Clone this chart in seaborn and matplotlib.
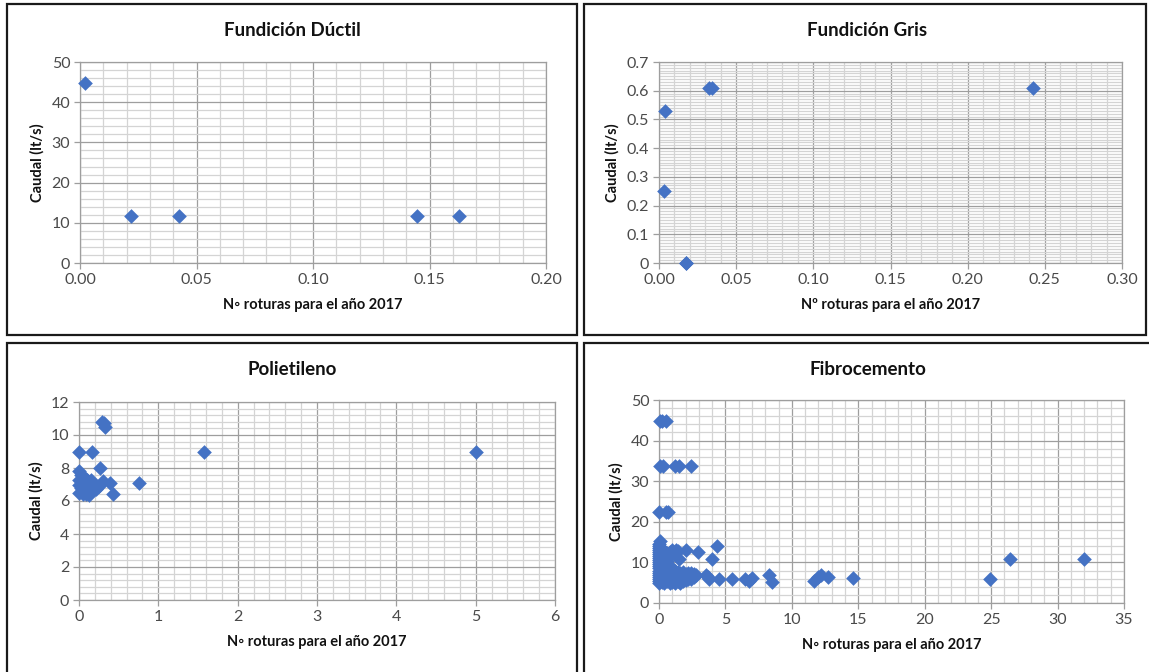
import pandas as pd
import seaborn as sns
import matplotlib.pyplot as plt
from matplotlib.patches import Rectangle
from matplotlib.ticker import MultipleLocator, FuncFormatter

sns.set_theme(style="white")
plt.rcParams['font.family'] = ['Lato', 'DejaVu Sans']

# ---- data -------------------------------------------------------------
ductil_roturas = [0.0022, 0.0217, 0.0427, 0.1446, 0.1627]
ductil_caudal = [44.9, 11.6, 11.6, 11.6, 11.6]

gris_roturas = [0.0040, 0.0035, 0.0172, 0.0178, 0.0324, 0.0343, 0.2424]
gris_caudal = [0.53, 0.25, 0.0, 0.0, 0.61, 0.61, 0.61]

polie_roturas = [0.00, 0.17, 0.29, 0.31, 0.33, 1.58, 5.00, 0.00, 0.02, 0.27,
                 0.30, 0.39, 0.76, 0.43, 0.00, 0.00, 0.00, 0.03, 0.05, 0.05,
                 0.08, 0.10, 0.10, 0.12, 0.14, 0.15, 0.17, 0.20, 0.22, 0.25,
                 0.12, 0.07, 0.02, 0.04, 0.09]
polie_caudal = [9.0, 9.0, 10.8, 10.7, 10.5, 9.0, 8.95, 7.8, 7.6, 8.0,
                7.2, 7.1, 7.1, 6.45, 6.5, 7.0, 7.3, 6.8, 7.5, 6.4,
                7.1, 6.7, 7.3, 6.5, 7.0, 7.3, 6.8, 7.0, 6.7, 6.9,
                6.35, 6.9, 7.2, 6.6, 6.45]

fibro_roturas = [
    0.05, 0.55, 0.25,
    0.10, 0.30, 1.20, 1.50, 2.40,
    0.00, 0.50, 0.65,
    0.05, 1.25, 2.00, 2.95, 4.40,
    1.50, 4.00, 26.4, 32.0,
    3.50, 3.70, 3.80, 4.50, 5.50, 6.50, 6.80, 7.00, 8.30, 8.50,
    11.7, 12.0, 12.2, 12.7, 14.6, 24.9,
    0.0, 0.0, 0.0, 0.0, 0.0, 0.0, 0.0, 0.0, 0.0, 0.0,
    0.0, 0.0, 0.0, 0.0, 0.0, 0.0, 0.0, 0.0, 0.0, 0.0,
    0.2, 0.2, 0.2, 0.2, 0.2, 0.2, 0.2, 0.2, 0.2,
    0.4, 0.4, 0.4, 0.4, 0.4, 0.4, 0.4, 0.4, 0.4,
    0.6, 0.6, 0.6, 0.6, 0.6, 0.6, 0.6, 0.6,
    0.8, 0.8, 0.8, 0.8, 0.8, 0.8, 0.8, 0.8,
    1.0, 1.0, 1.0, 1.0, 1.0, 1.0, 1.0,
    1.2, 1.2, 1.2, 1.2, 1.2,
    1.4, 1.4, 1.4, 1.4, 1.4,
    1.6, 1.6, 1.6, 1.6,
    1.8, 1.8, 1.8, 1.8,
    2.0, 2.0, 2.0,
    2.2, 2.2, 2.2,
    2.4, 2.4, 2.4,
    2.6, 2.6,
    2.8,
]
fibro_caudal = [
    44.9, 44.9, 44.9,
    33.8, 33.8, 33.8, 33.8, 33.8,
    22.3, 22.3, 22.3,
    15.2, 13.0, 13.0, 12.6, 14.1,
    10.8, 10.8, 10.8, 10.8,
    7.0, 6.5, 5.8, 5.8, 5.8, 6.0, 5.4, 6.1, 7.0, 5.2,
    5.5, 6.5, 7.0, 6.5, 6.1, 5.8,
    5.0, 5.5, 6.0, 6.5, 7.0, 7.5, 8.0, 8.5, 9.0, 9.5,
    10.0, 10.5, 11.0, 11.5, 12.0, 12.5, 13.0, 13.5, 14.0, 14.5,
    5.2, 6.2, 7.2, 8.2, 9.2, 10.2, 11.2, 12.2, 13.2,
    5.0, 6.0, 7.0, 8.0, 9.0, 10.0, 11.0, 12.0, 12.8,
    5.3, 6.3, 7.3, 8.3, 9.3, 10.3, 11.3, 12.3,
    5.0, 5.8, 6.6, 7.4, 8.2, 9.0, 11.8, 12.5,
    5.2, 6.0, 6.8, 7.6, 8.4, 12.2, 13.0,
    5.0, 5.8, 6.6, 7.4, 8.0,
    5.3, 6.1, 6.9, 7.6, 12.7,
    5.0, 5.8, 6.6, 7.4,
    5.4, 6.2, 7.0, 7.7,
    5.6, 6.4, 7.2,
    5.8, 6.6, 7.4,
    6.0, 6.8, 7.5,
    6.5, 7.2,
    7.0,
]

titles = ["Fundición Dúctil", "Fundición Gris", "Polietileno", "Fibrocemento"]
xlabels = ["N\u25e6 roturas para el año 2017", "Nº roturas para el año 2017",
           "N\u25e6 roturas para el año 2017", "N\u25e6 roturas para el año 2017"]
ylabel = "Caudal (lt/s)"

# ---- layout (pixel boxes) ---------------------------------------------
W, H = 1149, 672
BLUE = "#4472C4"
MAJOR = "#9E9E9E"
MINOR = "#D4D4D4"
TICKTXT = "#4A4A4A"

fig = plt.figure(figsize=(W / 100, H / 100), dpi=100)
fig.patch.set_facecolor("white")


def box(x0, y0, x1, y1):
    return [x0 / W, 1 - y1 / H, (x1 - x0) / W, (y1 - y0) / H]


panels = [
    dict(frame=(7, 4, 577, 335), ax=(80, 62, 546, 263), title_x=292,
         x=ductil_roturas, y=ductil_caudal,
         xlim=(0, 0.2), xmaj=0.05, xmin=0.01, ylim=(0, 50), ymaj=10, ymin=2,
         xfmt="{:.2f}", yfmt="{:g}"),
    dict(frame=(584, 4, 1146, 335), ax=(659, 62, 1122, 263), title_x=867,
         x=gris_roturas, y=gris_caudal,
         xlim=(0, 0.3), xmaj=0.05, xmin=0.01, ylim=(0, 0.7), ymaj=0.1, ymin=0.01,
         xfmt="{:.2f}", yfmt="{:g}"),
    dict(frame=(7, 343, 577, 700), ax=(79, 402, 555, 600), title_x=292,
         x=polie_roturas, y=polie_caudal,
         xlim=(0, 6), xmaj=1, xmin=0.2, ylim=(0, 12), ymaj=2, ymin=0.4,
         xfmt="{:g}", yfmt="{:g}"),
    dict(frame=(584, 343, 1160, 700), ax=(659, 400, 1124, 603), title_x=868,
         x=fibro_roturas, y=fibro_caudal,
         xlim=(0, 35), xmaj=5, xmin=1, ylim=(0, 50), ymaj=10, ymin=2,
         xfmt="{:g}", yfmt="{:g}"),
]

for p, title, xl in zip(panels, titles, xlabels):
    fx0, fy0, fx1, fy1 = p["frame"]
    fig.patches.append(Rectangle((fx0 / W, 1 - fy1 / H), (fx1 - fx0) / W, (fy1 - fy0) / H,
                                 transform=fig.transFigure, fill=False,
                                 edgecolor="#1a1a1a", linewidth=1.6))
    fig.text(p["title_x"] / W, 1 - (fy0 + 26) / H, title, ha="center", va="center",
             fontsize=13.5, fontweight="bold", color="#111111")

    ax = fig.add_axes(box(*p["ax"]))
    df = pd.DataFrame({"roturas": p["x"], "caudal": p["y"]})
    sns.scatterplot(data=df, x="roturas", y="caudal", ax=ax, marker="D",
                    s=56, color=BLUE, edgecolor=BLUE, linewidth=0, zorder=3,
                    clip_on=False)
    ax.set_xlim(*p["xlim"])
    ax.set_ylim(*p["ylim"])
    ax.xaxis.set_major_locator(MultipleLocator(p["xmaj"]))
    ax.xaxis.set_minor_locator(MultipleLocator(p["xmin"]))
    ax.yaxis.set_major_locator(MultipleLocator(p["ymaj"]))
    ax.yaxis.set_minor_locator(MultipleLocator(p["ymin"]))
    xf, yf = p["xfmt"], p["yfmt"]
    ax.xaxis.set_major_formatter(FuncFormatter(lambda v, _, f=xf: f.format(round(v, 6) + 0.0)))
    ax.yaxis.set_major_formatter(FuncFormatter(lambda v, _, f=yf: f.format(round(v, 6) + 0.0)))
    ax.set_axisbelow(True)
    ax.grid(which="minor", color=MINOR, linewidth=0.9)
    ax.grid(which="major", color=MAJOR, linewidth=0.9)
    for s in ax.spines.values():
        s.set_color(MAJOR)
        s.set_linewidth(0.9)
    ax.tick_params(which="major", length=4, width=0.9, color=MAJOR,
                   labelsize=11.5, labelcolor=TICKTXT, pad=3,
                   bottom=True, left=True, direction="out")
    ax.tick_params(which="minor", length=0)
    ax.set_xlabel(xl, fontsize=10.5, fontweight="bold", color="#111111", labelpad=8)
    ax.set_ylabel(ylabel, fontsize=10.5, fontweight="bold", color="#111111", labelpad=5)

fig.savefig("out.png", dpi=100, facecolor="white")
